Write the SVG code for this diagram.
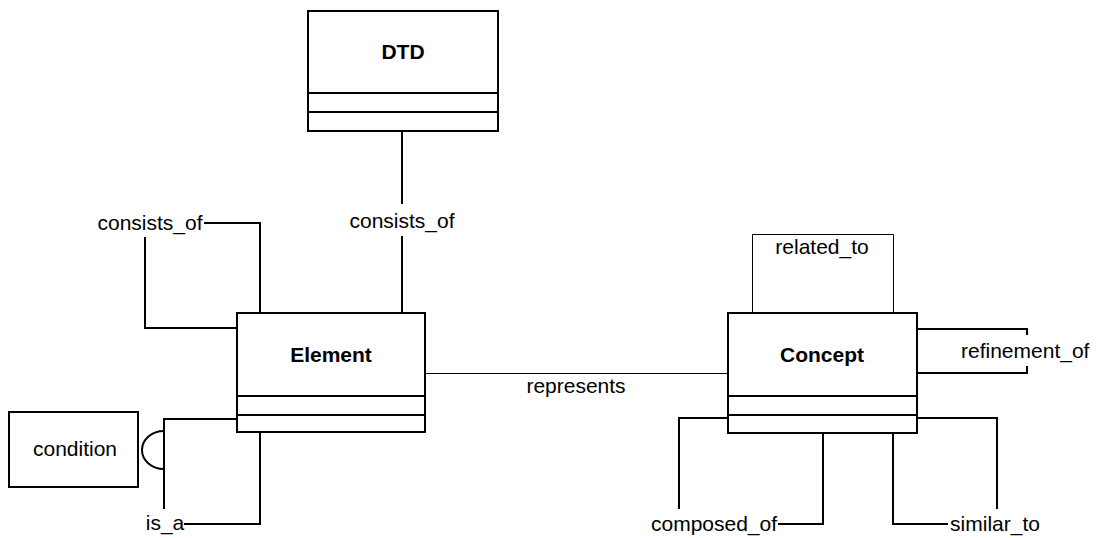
<svg xmlns="http://www.w3.org/2000/svg" width="1100" height="538" viewBox="0 0 1100 538">
  <style>
    .box { fill: #ffffff; stroke: #000000; stroke-width: 2; }
    .sep { stroke: #000000; stroke-width: 2; }
    .link { fill: none; stroke: #000000; stroke-width: 2; }
    .thin { fill: none; stroke: #000000; stroke-width: 1; }
    .lbl { font-family: "Liberation Sans", Arial, sans-serif; font-size: 21px; fill: #000000; }
    .title { font-family: "Liberation Sans", Arial, sans-serif; font-size: 21px; font-weight: bold; fill: #000000; }
  </style>
  <rect width="1100" height="538" fill="#ffffff"/>

  <!-- connectors -->
  <g id="connectors">
    <!-- DTD consists_of Element -->
    <path class="link" d="M402,131 V204"/>
    <path class="link" d="M402,236 V313"/>
    <text class="lbl" x="402" y="228" text-anchor="middle">consists_of</text>

    <!-- Element consists_of Element (self loop) -->
    <path class="link" d="M204,223 H260 V313"/>
    <path class="link" d="M237,328 H145 V237"/>
    <text class="lbl" x="150" y="230" text-anchor="middle">consists_of</text>

    <!-- Element is_a, with condition -->
    <path class="link" d="M237,419 H164 V509"/>
    <path class="link" d="M184,524 H260 V432"/>
    <path class="link" d="M164,431 A22,19 0 0 0 164,469"/>
    <text class="lbl" x="165" y="530" text-anchor="middle">is_a</text>

    <!-- Element represents Concept -->
    <path class="thin" d="M425,373.5 H728"/>
    <text class="lbl" x="576" y="393" text-anchor="middle">represents</text>

    <!-- Concept related_to (self loop) -->
    <path class="thin" d="M752.5,313 V234.5 H893.5 V313"/>
    <text class="lbl" x="822" y="254" text-anchor="middle">related_to</text>

    <!-- Concept refinement_of (self loop) -->
    <path class="link" d="M917,329 H1027 V335"/>
    <path class="link" d="M1027,366 V373 H917"/>
    <text class="lbl" x="961" y="358">refinement_of</text>

    <!-- Concept composed_of (self loop) -->
    <path class="link" d="M728,418 H679 V509"/>
    <path class="link" d="M778,524 H823 V433"/>
    <text class="lbl" x="714" y="531" text-anchor="middle">composed_of</text>

    <!-- Concept similar_to (self loop) -->
    <path class="link" d="M893,433 V524 H948"/>
    <path class="link" d="M917,418 H997 V509"/>
    <text class="lbl" x="995" y="531" text-anchor="middle">similar_to</text>
  </g>

  <!-- DTD class -->
  <g id="dtd">
    <rect class="box" x="308" y="11" width="190" height="120"/>
    <line class="sep" x1="308" y1="93" x2="498" y2="93"/>
    <line class="sep" x1="308" y1="112" x2="498" y2="112"/>
    <text class="title" x="403" y="59" text-anchor="middle">DTD</text>
  </g>

  <!-- Element class -->
  <g id="element">
    <rect class="box" x="237" y="313" width="188" height="119"/>
    <line class="sep" x1="237" y1="396" x2="425" y2="396"/>
    <line class="sep" x1="237" y1="415" x2="425" y2="415"/>
    <text class="title" x="331" y="362" text-anchor="middle">Element</text>
  </g>

  <!-- Concept class -->
  <g id="concept">
    <rect class="box" x="728" y="313" width="189" height="120"/>
    <line class="sep" x1="728" y1="396" x2="917" y2="396"/>
    <line class="sep" x1="728" y1="415" x2="917" y2="415"/>
    <text class="title" x="822" y="362" text-anchor="middle">Concept</text>
  </g>

  <!-- condition -->
  <g id="condition">
    <rect class="box" x="9" y="412" width="129" height="75"/>
    <text class="lbl" x="75" y="456" text-anchor="middle">condition</text>
  </g>
</svg>
